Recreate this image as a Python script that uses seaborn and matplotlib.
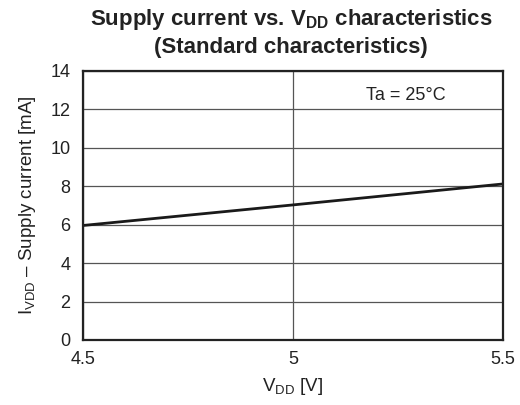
import numpy as np
import pandas as pd
import matplotlib
matplotlib.use("Agg")
import matplotlib.pyplot as plt
import seaborn as sns

# data
vdd = [4.5, 5.0, 5.5]
idd = [5.96, 7.03, 8.12]
x_ticks = [4.5, 5, 5.5]
x_tick_labels = ["4.5", "5", "5.5"]
y_ticks = [0, 2, 4, 6, 8, 10, 12, 14]

df = pd.DataFrame({"VDD": vdd, "IDD": idd})

sns.set_style("white")
plt.rcParams["font.family"] = ["Liberation Sans", "DejaVu Sans"]
plt.rcParams["mathtext.fontset"] = "custom"
plt.rcParams["mathtext.rm"] = "Liberation Sans"
plt.rcParams["mathtext.it"] = "Liberation Sans"
plt.rcParams["mathtext.bf"] = "Liberation Sans:bold"

fig = plt.figure(figsize=(5.2, 4.05), dpi=100)
ax = fig.add_axes([0.1596, 0.1605, 0.8074, 0.6642])

sns.lineplot(data=df, x="VDD", y="IDD", ax=ax, color="#1a1a1a", linewidth=2.0)

ax.set_xlim(4.5, 5.5)
ax.set_ylim(0, 14)
ax.set_xticks(x_ticks)
ax.set_xticklabels(x_tick_labels)
ax.set_yticks(y_ticks)
ax.tick_params(axis="both", length=0, labelsize=13, colors="#222222")
ax.tick_params(axis="x", pad=8)
ax.tick_params(axis="y", pad=9)

ax.grid(True, color="#555555", linewidth=0.9)
for s in ax.spines.values():
    s.set_color("#222222")
    s.set_linewidth(1.6)

ax.set_xlabel(r"V$_{\mathrm{DD}}$ [V]", fontsize=13.5, color="#222222", labelpad=6)
ax.set_ylabel(r"I$_{\mathrm{VDD}}$ – Supply current [mA]", fontsize=13.5,
              color="#222222", labelpad=9)

ax.text(5.27, 12.75, "Ta = 25°C", ha="center", va="center", fontsize=13,
        color="#222222")

fig.suptitle("Supply current vs. V$_{\\mathbf{DD}}$ characteristics\n(Standard characteristics)",
             x=0.56, y=0.982, fontsize=16, fontweight="bold", color="#222222",
             linespacing=1.3)

fig.savefig("out.png", dpi=100)
